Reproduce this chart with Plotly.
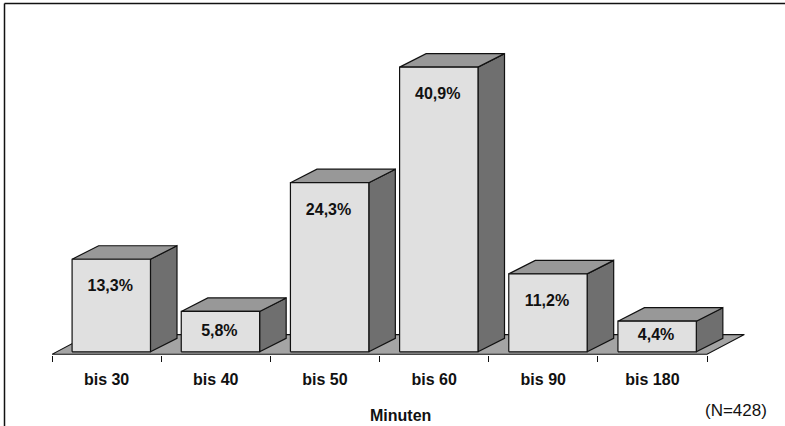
import plotly.graph_objects as go

# ---- data -------------------------------------------------------------
categories = ["bis 30", "bis 40", "bis 50", "bis 60", "bis 90", "bis 180"]
values = [13.3, 5.8, 24.3, 40.9, 11.2, 4.4]
axis_title = "Minuten"
sample_note = "(N=428)"

# ---- geometry of the pseudo-3D columns (axis units) -------------------
BAR_OFFSET = -0.316      # left edge of the front face relative to category
BAR_W = 0.718            # width of the front face
DX, DY = 0.243, 1.94     # depth of a column (x in categories, y in %)
FLOOR_DX, FLOOR_DY = 0.342, 2.83
FLOOR_Y = -0.36          # front edge of the floor

# ---- page / plot-area layout in pixels -------------------------------
W, H = 785, 426
L, R, T, B = 52, 25, 20, 71
PX_PER_CAT = 109.17
PX_PER_PCT = 6.96
plot_w = W - L - R
plot_h = H - T - B
x_min = -0.5
x_max = x_min + plot_w / PX_PER_CAT
base_px = 351.8
y_min = -(H - B - base_px) / PX_PER_PCT
y_max = (base_px - T) / PX_PER_PCT

FONT = "Liberation Sans, Arial, sans-serif"
EDGE = "#111111"


def paper_x(px):
    return (px - L) / plot_w


def paper_y(py):
    return (H - B - py) / plot_h


def polygons(polys):
    xs, ys = [], []
    for poly in polys:
        for x, y in poly:
            xs.append(x)
            ys.append(y)
        xs.append(poly[0][0])
        ys.append(poly[0][1])
        xs.append(None)
        ys.append(None)
    return xs, ys


fig = go.Figure()

# floor
n = len(categories)
floor = [[(-0.5, FLOOR_Y), (n - 0.5, FLOOR_Y),
          (n - 0.5 + FLOOR_DX, FLOOR_Y + FLOOR_DY),
          (-0.5 + FLOOR_DX, FLOOR_Y + FLOOR_DY)]]
fx, fy = polygons(floor)
fig.add_trace(go.Scatter(x=fx, y=fy, mode="lines", fill="toself",
                         fillcolor="#a4a4a4", line=dict(color=EDGE, width=1.1),
                         hoverinfo="skip", showlegend=False))

fronts, tops, sides = [], [], []
for i, v in enumerate(values):
    xl = i + BAR_OFFSET
    xr = xl + BAR_W
    fronts.append([(xl, 0), (xr, 0), (xr, v), (xl, v)])
    tops.append([(xl, v), (xr, v), (xr + DX, v + DY), (xl + DX, v + DY)])
    sides.append([(xr, 0), (xr + DX, DY), (xr + DX, v + DY), (xr, v)])

for polys, color in ((sides, "#6f6f6f"), (tops, "#989898"), (fronts, "#e0e0e0")):
    px_, py_ = polygons(polys)
    fig.add_trace(go.Scatter(x=px_, y=py_, mode="lines", fill="toself",
                             fillcolor=color, line=dict(color=EDGE, width=1.2),
                             hoverinfo="skip", showlegend=False))

# value labels inside the front faces
label_x = [i + BAR_OFFSET + BAR_W / 2 - 0.01 for i in range(n)]
label_y = [v - min(v / 2, 4.0) for v in values]
label_text = [f"{v:.1f}".replace(".", ",") + "%" for v in values]
fig.add_trace(go.Scatter(x=label_x, y=label_y, mode="text", text=label_text,
                         textfont=dict(family=FONT, size=16, color="#111111",
                                       weight="bold"),
                         hoverinfo="skip", showlegend=False))

fig.update_layout(
    width=W, height=H,
    margin=dict(l=L, r=R, t=T, b=B, pad=0),
    paper_bgcolor="white", plot_bgcolor="white",
    xaxis=dict(range=[x_min, x_max], showgrid=False, zeroline=False,
               showline=False, tickvals=list(range(n)), ticktext=categories,
               ticks="", ticklabelstandoff=13,
               tickfont=dict(family=FONT, size=16, color="#111111", weight="bold"),
               minor=dict(tickvals=[k - 0.5 for k in range(n + 1)],
                          ticks="outside", ticklen=6, tickwidth=1.1,
                          tickcolor=EDGE, showgrid=False)),
    yaxis=dict(range=[y_min, y_max], visible=False),
    shapes=[
        dict(type="line", xref="paper", yref="paper",
             x0=paper_x(4.5), x1=paper_x(786), y0=paper_y(3.5), y1=paper_y(3.5),
             line=dict(color="#111111", width=1.5)),
        dict(type="line", xref="paper", yref="paper",
             x0=paper_x(4.5), x1=paper_x(4.5), y0=paper_y(3.5), y1=paper_y(427),
             line=dict(color="#111111", width=1.5)),
    ],
    annotations=[
        dict(text=axis_title, xref="paper", yref="paper",
             x=paper_x(400), y=paper_y(415.5), xanchor="center", yanchor="middle",
             showarrow=False,
             font=dict(family=FONT, size=16, color="#111111", weight="bold")),
        dict(text=sample_note, xref="paper", yref="paper",
             x=paper_x(736), y=paper_y(410.7), xanchor="center", yanchor="middle",
             showarrow=False,
             font=dict(family=FONT, size=17, color="#111111")),
    ],
)

fig.write_html("out.html")
